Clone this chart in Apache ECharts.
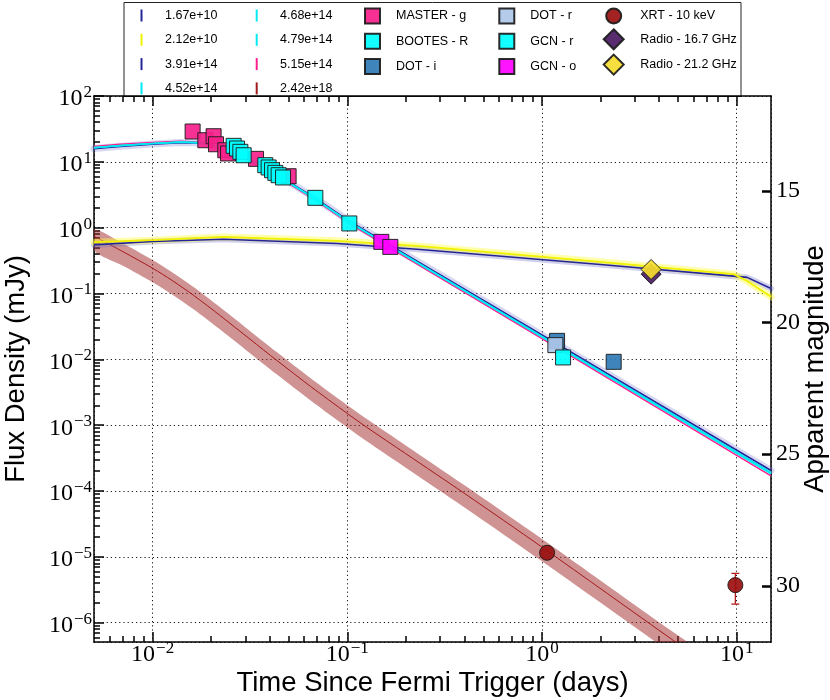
<!DOCTYPE html>
<html>
<head>
<meta charset="utf-8">
<script src="https://cdn.jsdelivr.net/npm/echarts@6/dist/echarts.min.js"></script>
<style>html,body{margin:0;padding:0;background:#fff}#c{width:830px;height:700px}</style>
</head>
<body>
<div id="c"></div>
<script>
const SERIF = 'Liberation Serif', SANS = 'Liberation Sans';

// ---------------- data (time in days, flux density in mJy) ----------------
// model light curves
const optTime = [0.005, 0.00683, 0.01, 0.0139, 0.0176, 0.0236, 0.0292, 0.0379, 0.0469, 0.0685, 0.1024, 1.0, 15.0];
const opt391 = [15.9, 17.2, 18.6, 19.6, 19.3, 15.6, 12.0, 8.35, 5.6, 2.80, 1.26, 0.0235, 2.05e-4];
const opt452 = [16.3, 17.6, 18.9, 19.9, 19.5, 15.6, 11.85, 8.2, 5.5, 2.73, 1.22, 0.0223, 1.92e-4];
const opt468 = [16.4, 17.7, 19.0, 19.95, 19.5, 15.6, 11.8, 8.15, 5.45, 2.71, 1.21, 0.0220, 1.87e-4];
const opt479 = [16.5, 17.8, 19.1, 20.0, 19.5, 15.6, 11.75, 8.1, 5.42, 2.69, 1.20, 0.0217, 1.83e-4];
const opt515 = [17.1, 18.4, 19.7, 20.5, 19.8, 15.6, 11.6, 7.95, 5.3, 2.63, 1.16, 0.0207, 1.70e-4];

const radTime = [0.005, 0.01, 0.02316, 0.0886, 0.2372, 1.994, 9.65, 11.3, 15.0];
const rad167 = [0.548, 0.618, 0.669, 0.576, 0.467, 0.276, 0.1835, 0.176, 0.1194];
const rad212 = [0.603, 0.646, 0.725, 0.631, 0.524, 0.303, 0.197, 0.155, 0.0890];

const xrtTime  = [0.005, 0.00708, 0.01, 0.01259, 0.01622, 0.02239, 0.03162, 0.04355, 0.06457, 0.1, 0.1259, 0.1995, 0.3981, 1.0, 4.732, 15.0];
const xrtModel = [0.743, 0.4285, 0.2421, 0.1581, 0.0940, 0.0455, 0.02028, 0.009594, 0.003908, 0.001507, 9.29e-4, 3.70e-4, 9.29e-5, 1.406e-5, 5.37e-7, 4.79e-8];
const xrtUpper = [0.929, 0.5716, 0.323, 0.2109, 0.1254, 0.0607, 0.02705, 0.0128, 0.005213, 0.00201, 1.239e-3, 4.94e-4, 1.239e-4, 1.876e-5, 7.16e-7, 6.39e-8];
const xrtLower = [0.4547, 0.2622, 0.1482, 0.09676, 0.05753, 0.02785, 0.01241, 0.005872, 0.002392, 9.22e-4, 5.69e-4, 2.264e-4, 5.69e-5, 8.6e-6, 3.29e-7, 2.93e-8];

// observations
const masterT = [0.01605, 0.01865, 0.02057, 0.02117, 0.02362, 0.0244, 0.03398, 0.04995];
const masterF = [28.9, 21.3, 24.5, 18.5, 15.0, 13.4, 11.1, 6.05];
const bootesT = [0.02607, 0.02714, 0.02822, 0.02935, 0.0379, 0.03944, 0.04105, 0.04269, 0.04439, 0.04677];
const bootesF = [17.5, 15.95, 14.2, 12.6, 8.90, 8.21, 7.47, 6.80, 6.27, 5.79];
const dotiT = [1.195, 2.334];
const dotiF = [0.0191, 0.00918];
const dotrT = [1.171];
const dotrF = [0.01645];
const gcnrT = [0.06852, 0.1024, 1.283];
const gcnrF = [2.84, 1.16, 0.0107];
const gcnoT = [0.1495, 0.1663];
const gcnoF = [0.609, 0.511];
const xrtT = [1.062, 9.84];
const xrtF = [1.155e-5, 3.73e-6];
const xrtErrT = [9.84];
const xrtErrLo = [1.92e-6];
const xrtErrHi = [5.62e-6];
const r167T = [3.634];
const r167F = [0.197];
const r212T = [3.634];
const r212F = [0.232];

// axes
const X_MIN = 0.005, X_MAX = 15, Y_MIN = 5.1e-7, Y_MAX = 100;
const magTicks = [15, 20, 25, 30];
const xMajorExp = [-2, -1, 0, 1];
const lineNames = ['1.67e+10', '2.12e+10', '3.91e+14', '4.52e+14', '4.68e+14', '4.79e+14', '5.15e+14', '2.42e+18'];

// ---------------- helpers ----------------
const pairs = (t, f) => t.map((x, i) => [x, f[i]]);
const MAG_TOP = 16.4 - 2.5 * Math.log10(Y_MAX);
const MAG_BOT = 16.4 - 2.5 * Math.log10(Y_MIN);

function minorLog(lo, hi) {
  const out = [];
  for (let e = -8; e <= 2; e++) for (let k = 2; k <= 9; k++) {
    const v = k * Math.pow(10, e);
    if (v > lo && v < hi) out.push(Math.log10(v));
  }
  return out;
}
function pow10Label(v) {
  const e = Math.round(Math.log10(v));
  return '{b|10}{e|' + (e < 0 ? '\u2212' + (-e) : String(e)) + '}';
}
const rich = {
  b: { fontFamily: SERIF, fontSize: 24, lineHeight: 24, padding: [3, 0, 8, 0], verticalAlign: 'top', color: '#000' },
  e: { fontFamily: SERIF, fontSize: 17, lineHeight: 17, verticalAlign: 'top', color: '#000', padding: [0, 0, 0, 1] }
};
const black = '#000';
const axLine = { show: true, onZero: false, lineStyle: { color: black, width: 1.5 } };
const grid = { show: true, lineStyle: { color: black, type: [1.2, 3], width: 1, opacity: 0.9 } };
const tickStyle = { color: black, width: 1.5 };

function lineSeries(name, t, f, color, width, z) {
  return { name, type: 'line', data: pairs(t, f), showSymbol: false, symbol: 'none',
    color, itemStyle: { color }, lineStyle: { color, width }, z, silent: true };
}
function haze(t, f, color, width, z) {
  return { type: 'line', data: pairs(t, f), showSymbol: false, symbol: 'none',
    lineStyle: { color, width, cap: 'round' }, z, silent: true };
}
function scatter(name, t, f, symbol, size, color, z) {
  return { name, type: 'scatter', data: pairs(t, f), symbol, symbolSize: size, z, silent: true,
    itemStyle: { color, borderColor: '#1a1a1a', borderWidth: 1, opacity: 0.92 } };
}

const NAVY = '#25259a', CYAN = '#00eaf2', PINK = '#ff1f8e', YEL = '#f2f200', XRED = '#a41a1a';

const series = [
  {
    type: 'custom', silent: true, clip: true, z: 1,
    data: pairs(xrtTime, xrtModel),
    renderItem(params, api) {
      if (params.dataIndex !== 0) return null;
      const up = xrtTime.map((t, i) => api.coord([t, xrtUpper[i]]));
      const lo = xrtTime.map((t, i) => api.coord([t, xrtLower[i]])).reverse();
      return { type: 'polygon', shape: { points: up.concat(lo), smooth: 0.3 }, style: { fill: 'rgba(160,40,40,0.5)' } };
    }
  },
  { ...lineSeries('2.42e+18', xrtTime, xrtModel, XRED, 1, 2), smooth: 0.3 },
  haze(optTime, opt391, 'rgba(110,110,210,0.28)', 7, 2),
  haze(radTime, rad167, 'rgba(100,100,200,0.30)', 6, 2),
  haze(radTime, rad212, 'rgba(255,255,70,0.45)', 7, 2),
  lineSeries('1.67e+10', radTime, rad167, NAVY, 1.6, 3),
  lineSeries('2.12e+10', radTime, rad212, YEL, 1.8, 3),
  lineSeries('3.91e+14', optTime, opt391, NAVY, 1.6, 3),
  lineSeries('5.15e+14', optTime, opt515, PINK, 1.6, 3),
  lineSeries('4.52e+14', optTime, opt452, CYAN, 1.4, 3),
  lineSeries('4.79e+14', optTime, opt479, CYAN, 1.4, 3),
  lineSeries('4.68e+14', optTime, opt468, CYAN, 1.6, 3),
  scatter('MASTER - g', masterT, masterF, 'rect', 15, '#f5208a', 5),
  scatter('BOOTES - R', bootesT, bootesF, 'rect', 15, '#00ffff', 5),
  scatter('DOT - i', dotiT, dotiF, 'rect', 15, '#2f7bb5', 5),
  scatter('DOT - r', dotrT, dotrF, 'rect', 15, '#aec7e8', 5),
  scatter('GCN - r', gcnrT, gcnrF, 'rect', 15, '#00ffff', 5),
  scatter('GCN - o', gcnoT, gcnoF, 'rect', 15, '#ff00ff', 5),
  {
    type: 'custom', silent: true, z: 5,
    data: xrtErrT.map((t, i) => [t, xrtErrLo[i], xrtErrHi[i]]),
    renderItem(params, api) {
      const x = api.value(0);
      const a = api.coord([x, api.value(1)]), b = api.coord([x, api.value(2)]);
      const w = 4, st = { stroke: '#b41e1e', lineWidth: 1.3 };
      return { type: 'group', children: [
        { type: 'line', shape: { x1: a[0], y1: a[1], x2: b[0], y2: b[1] }, style: st },
        { type: 'line', shape: { x1: a[0] - w, y1: a[1], x2: a[0] + w, y2: a[1] }, style: st },
        { type: 'line', shape: { x1: b[0] - w, y1: b[1], x2: b[0] + w, y2: b[1] }, style: st }
      ] };
    }
  },
  scatter('XRT - 10 keV', xrtT, xrtF, 'circle', 15, '#9b1010', 6),
  scatter('Radio - 16.7 GHz', r167T, r167F, 'diamond', 20, '#4b1a63', 6),
  scatter('Radio - 21.2 GHz', r212T, r212F, 'diamond', 20, '#f5dc2e', 6)
];

const legBase = { orient: 'vertical', padding: 0, selectedMode: false };
const legText = (pad) => ({ fontFamily: SANS, fontSize: 12.5, lineHeight: 12, color: '#000', padding: [0, 0, 0, pad] });
const legend = [
  { ...legBase, left: 140.5, top: 9, itemWidth: 2, itemHeight: 12, itemGap: 11.3, textStyle: legText(17.5),
    data: lineNames.slice(0, 4).map(n => ({ name: n, icon: 'rect' })) },
  { ...legBase, left: 255.7, top: 9, itemWidth: 2, itemHeight: 12, itemGap: 11.3, textStyle: legText(17.3),
    data: lineNames.slice(4, 8).map(n => ({ name: n, icon: 'rect' })) },
  { ...legBase, left: 364, top: 7.5, itemWidth: 15, itemHeight: 15, itemGap: 8.3, textStyle: legText(11),
    data: ['MASTER - g', 'BOOTES - R', 'DOT - i'].map(n => ({ name: n, icon: 'rect' })) },
  { ...legBase, left: 498.3, top: 7.5, itemWidth: 15, itemHeight: 15, itemGap: 8.3, textStyle: legText(11),
    data: ['DOT - r', 'GCN - r', 'GCN - o'].map(n => ({ name: n, icon: 'rect' })) },
  { ...legBase, left: 605.2, top: 7.5, itemWidth: 15, itemHeight: 15, textStyle: legText(14),
    data: [{ name: 'XRT - 10 keV', icon: 'circle' }] },
  { ...legBase, left: 602.7, top: 28.3, itemWidth: 20, itemHeight: 20, itemGap: 3.3, textStyle: legText(11.6),
    data: ['Radio - 16.7 GHz', 'Radio - 21.2 GHz'].map(n => ({ name: n, icon: 'diamond' })) }
];

const xLogMin = Math.log10(X_MIN), xLogMax = Math.log10(X_MAX);
const yLogMin = Math.log10(Y_MIN), yLogMax = Math.log10(Y_MAX);
const hidden = { axisLine: { show: false, onZero: false }, axisLabel: { show: false }, splitLine: { show: false } };
const minorTick = (vals) => ({ show: true, inside: true, length: 6, lineStyle: { color: black, width: 1.5 }, customValues: vals });
const gridRect = { left: 94, top: 96, width: 677, height: 546, containLabel: false, outerBoundsMode: 'none' };
const nameFont = { fontFamily: SANS, fontSize: 27.5, color: '#000' };

const option = {
  animation: false,
  backgroundColor: '#fff',
  // grid 0: data; grid 1: minor ticks; grid 2: top frame with major ticks (same rectangle)
  grid: [{ ...gridRect }, { ...gridRect }, { ...gridRect }],
  graphic: [{ type: 'rect', z: 0, silent: true, shape: { x: 124, y: 2.5, width: 617, height: 94 },
    style: { fill: '#fff', stroke: '#222', lineWidth: 1 } }],
  legend,
  xAxis: [
    { gridIndex: 0, type: 'log', logBase: 10, min: X_MIN, max: X_MAX, position: 'bottom',
      axisLine: axLine,
      axisTick: { show: true, inside: true, length: 10, lineStyle: tickStyle },
      axisLabel: { formatter: pow10Label, rich, margin: -2, showMinLabel: false, showMaxLabel: false },
      splitLine: grid,
      name: 'Time Since Fermi Trigger (days)', nameLocation: 'middle', nameGap: 27, nameMoveOverlap: false,
      nameTextStyle: nameFont },
    { gridIndex: 1, type: 'value', min: xLogMin, max: xLogMax, position: 'bottom', ...hidden, axisTick: minorTick(minorLog(X_MIN, X_MAX)) },
    { gridIndex: 1, type: 'value', min: xLogMin, max: xLogMax, position: 'top', ...hidden, axisTick: minorTick(minorLog(X_MIN, X_MAX)) },
    { gridIndex: 2, type: 'value', min: xLogMin, max: xLogMax, position: 'top', axisLine: axLine,
      axisLabel: { show: false }, splitLine: { show: false },
      axisTick: { show: true, inside: true, length: 10, lineStyle: tickStyle, customValues: xMajorExp } }
  ],
  yAxis: [
    { gridIndex: 0, type: 'log', logBase: 10, min: Y_MIN, max: Y_MAX, position: 'left',
      axisLine: axLine,
      axisTick: { show: true, inside: true, length: 10, lineStyle: tickStyle },
      axisLabel: { formatter: pow10Label, rich, margin: 2, showMinLabel: false },
      splitLine: grid,
      name: 'Flux Density (mJy)', nameLocation: 'middle', nameGap: 64, nameRotate: 90, nameMoveOverlap: false,
      nameTextStyle: nameFont },
    { gridIndex: 0, type: 'value', inverse: true, min: MAG_TOP, max: MAG_BOT, position: 'right',
      axisLine: axLine, splitLine: { show: false },
      axisTick: { show: true, inside: true, length: 9, lineStyle: { color: black, width: 2.5 }, customValues: magTicks },
      axisLabel: { customValues: magTicks, margin: 5, fontFamily: SERIF, fontSize: 24, color: '#000' },
      name: 'Apparent magnitude', nameLocation: 'middle', nameGap: 30, nameRotate: 90, nameMoveOverlap: false,
      nameTextStyle: nameFont },
    { gridIndex: 1, type: 'value', min: yLogMin, max: yLogMax, position: 'left', ...hidden, axisTick: minorTick(minorLog(Y_MIN, Y_MAX)) },
    { gridIndex: 2, type: 'value', min: yLogMin, max: yLogMax, position: 'left', ...hidden, axisTick: { show: false } }
  ],
  series
};

const chart = echarts.init(document.getElementById('c'), null, { renderer: 'canvas', width: 830, height: 700 });
chart.setOption(option);
</script>
</body>
</html>
